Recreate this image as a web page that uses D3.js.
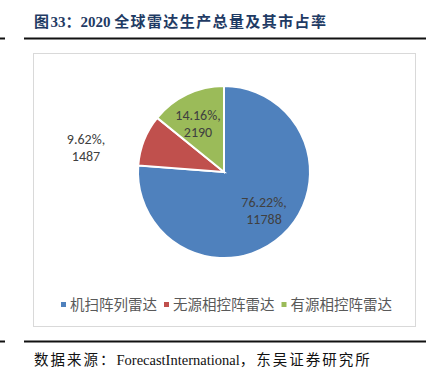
<!DOCTYPE html>
<html>
<head>
<meta charset="utf-8">
<script src="https://cdn.jsdelivr.net/npm/d3@7"></script>
<style>
  body { margin: 0; background: #fff; }
  svg { display: block; }
</style>
</head>
<body>
<div id="chart"></div>
<script>
// data
const categories = ["机扫阵列雷达", "无源相控阵雷达", "有源相控阵雷达"]
const values = [11788, 1487, 2190]
const percentLabels = ["76.22%", "9.62%", "14.16%"]
const colors = ["#4f81bd", "#c0504d", "#9bbb59"]

// title / source split so the CJK parts can be spaced like the original
const titleParts = [["图", true], ["33：2020 ", false], ["全球雷达生产总量及其市占率", true]]
const sourceParts = [["数据来源：", true], ["ForecastInternational", false], ["，东吴证券研究所", true]]

const width = 430, height = 370
const svg = d3.select("#chart").append("svg")
  .attr("width", width)
  .attr("height", height)

const serif = "'Liberation Serif', 'Noto Sans CJK SC', serif"

// title + rules
const titleText = svg.append("text")
  .attr("x", 34)
  .attr("y", 27)
  .attr("font-family", serif)
  .attr("font-weight", "bold")
  .attr("font-size", 15)
  .attr("fill", "#1f3b64")
titleText.selectAll("tspan")
  .data(titleParts)
  .join("tspan")
    .attr("letter-spacing", d => d[1] ? 1.4 : 0)
    .text(d => d[0])

const rules = [38.5, 341.5]
for (const y of rules) {
  svg.append("line").attr("x1", 24).attr("x2", 426).attr("y1", y).attr("y2", y)
    .attr("stroke", "#111").attr("stroke-width", 2)
  svg.append("line").attr("x1", 0).attr("x2", 5).attr("y1", y).attr("y2", y)
    .attr("stroke", "#111").attr("stroke-width", 2)
}

// chart frame
svg.append("rect")
  .attr("x", 33.5).attr("y", 53.5)
  .attr("width", 382).attr("height", 273)
  .attr("fill", "#fff")
  .attr("stroke", "#d9d9d9")

// pie
const cx = 224, cy = 172, r = 86
const pie = d3.pie().sort(null).value(d => d)
const arcs = pie(values)
const arc = d3.arc().innerRadius(0).outerRadius(r)

const g = svg.append("g").attr("transform", `translate(${cx},${cy})`)
g.selectAll("path")
  .data(arcs)
  .join("path")
    .attr("d", arc)
    .attr("fill", (d, i) => colors[i])
    .attr("stroke", "#fff")
    .attr("stroke-width", 2)

// label spots (red one sits outside the pie, like the original)
const labelPos = (d, i) => {
  if (i === 0) return [40, 35]
  if (i === 1) return [-138, -28]
  return [-26, -52]
}

const labels = g.selectAll(".lbl")
  .data(arcs)
  .join("text")
    .attr("class", "lbl")
    .attr("text-anchor", "middle")
    .attr("font-family", "Calibri, 'Liberation Sans', 'Noto Sans', sans-serif")
    .attr("font-size", 14)
    .attr("fill", "#404040")
    .attr("transform", (d, i) => `translate(${labelPos(d, i)})`)
labels.append("tspan").attr("x", 0).attr("dy", 0).text((d, i) => percentLabels[i] + ",")
labels.append("tspan").attr("x", 0).attr("dy", 17).text(d => d.data)

// legend
const legend = svg.append("g")
  .attr("font-family", "'Noto Sans CJK SC', sans-serif")
  .attr("font-size", 14.5)
  .attr("fill", "#595959")
let lx = 61
categories.forEach((c, i) => {
  legend.append("rect").attr("x", lx).attr("y", 302).attr("width", 5).attr("height", 5)
    .attr("fill", colors[i])
  const t = legend.append("text").attr("x", lx + 9).attr("y", 310).text(c)
  lx += 9 + t.node().getComputedTextLength() + 7
})

// source
const sourceText = svg.append("text")
  .attr("x", 34)
  .attr("y", 365)
  .attr("font-family", serif)
  .attr("font-size", 14.5)
  .attr("fill", "#111")
sourceText.selectAll("tspan")
  .data(sourceParts)
  .join("tspan")
    .attr("letter-spacing", d => d[1] ? 2 : 0)
    .text(d => d[0])
</script>
</body>
</html>
